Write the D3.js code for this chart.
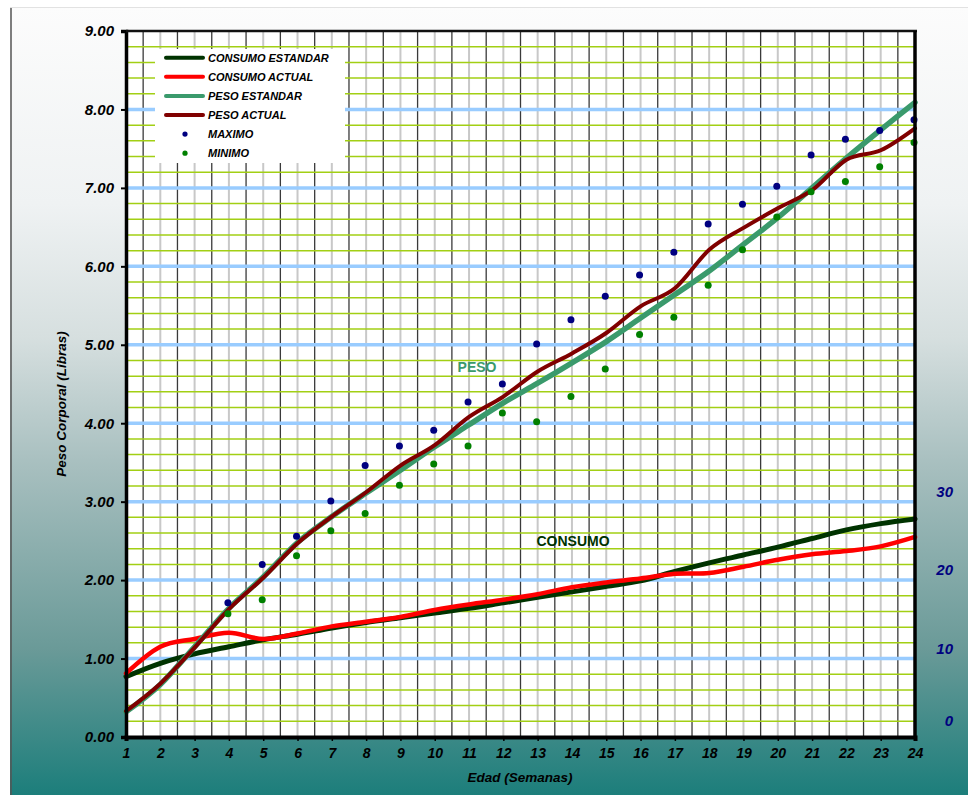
<!DOCTYPE html>
<html>
<head>
<meta charset="utf-8">
<script src="https://cdn.jsdelivr.net/npm/d3@7"></script>
<style>
  body { margin: 0; background: #ffffff; }
  svg text { font-family: "Liberation Sans", Arial, sans-serif; }
</style>
</head>
<body>
<div id="chart"></div>
<script>
// weeks 1..24
var semanas = d3.range(1, 25);

// libras
var pesoEstandar = [0.32, 0.67, 1.15, 1.64, 2.04, 2.48, 2.81, 3.11, 3.40, 3.70, 3.98, 4.26,
                    4.51, 4.77, 5.04, 5.34, 5.64, 5.94, 6.28, 6.62, 7.00, 7.38, 7.74, 8.09];
var pesoActual   = [0.33, 0.68, 1.14, 1.63, 2.03, 2.47, 2.81, 3.12, 3.46, 3.72, 4.08, 4.34,
                    4.66, 4.89, 5.15, 5.49, 5.72, 6.21, 6.49, 6.74, 6.97, 7.36, 7.48, 7.76];

// maximo / minimo from week 4
var semanasMM = d3.range(4, 25);
var maximo = [1.71, 2.20, 2.56, 3.01, 3.46, 3.71, 3.91, 4.27, 4.50, 5.01, 5.32, 5.62,
              5.89, 6.18, 6.54, 6.79, 7.02, 7.42, 7.62, 7.73, 7.87];
var minimo = [1.57, 1.75, 2.31, 2.63, 2.85, 3.21, 3.48, 3.71, 4.13, 4.02, 4.34, 4.69,
              5.13, 5.35, 5.76, 6.21, 6.63, 6.95, 7.08, 7.27, 7.58];

// consumo (secondary axis)
var consumoEstandar = [7.7, 9.4, 10.6, 11.5, 12.4, 13.1, 13.9, 14.6, 15.2, 15.8, 16.4, 17.1,
                       17.8, 18.5, 19.2, 19.9, 21.1, 22.2, 23.2, 24.2, 25.3, 26.4, 27.2, 27.8];
var consumoActual   = [8.1, 11.5, 12.5, 13.3, 12.5, 13.2, 14.1, 14.7, 15.3, 16.2, 16.9, 17.5,
                       18.2, 19.1, 19.7, 20.2, 20.8, 20.9, 21.7, 22.6, 23.3, 23.7, 24.3, 25.5];

var pesoTicks = d3.range(0, 10);
var consumoTicks = [0, 10, 20, 30];

var legendItems = [
  {name: "CONSUMO ESTANDAR", color: "#003300", type: "line"},
  {name: "CONSUMO ACTUAL", color: "#ff0000", type: "line"},
  {name: "PESO ESTANDAR", color: "#3a9a6c", type: "line"},
  {name: "PESO ACTUAL", color: "#800000", type: "line"},
  {name: "MAXIMO", color: "#000080", type: "dot"},
  {name: "MINIMO", color: "#008000", type: "dot"}
];

function init() {
  var W = 968, H = 795;
  var left = 126, right = 915, top = 31, bottom = 737;

  var svg = d3.select("#chart").append("svg")
    .attr("width", W).attr("height", H);

  var defs = svg.append("defs");
  var grad = defs.append("linearGradient").attr("id", "bg")
    .attr("x1", 0).attr("y1", 0).attr("x2", 0).attr("y2", 1);
  [[0, "#fcfcfc"], [0.25, "#eff2f3"], [0.42, "#d6dfdf"], [0.575, "#a9c0c0"],
   [0.815, "#6a9a98"], [1, "#1c7e7b"]].forEach(function(s) {
    grad.append("stop").attr("offset", s[0]).attr("stop-color", s[1]);
  });

  svg.append("rect").attr("x", 10).attr("y", 7).attr("width", W - 10).attr("height", H - 7)
    .attr("fill", "url(#bg)");
  svg.append("line").attr("x1", 11).attr("x2", 11).attr("y1", 7).attr("y2", H)
    .attr("stroke", "#555").attr("stroke-width", 1.5);
  svg.append("line").attr("x1", 10).attr("x2", W).attr("y1", 7.5).attr("y2", 7.5)
    .attr("stroke", "#e2e2e2").attr("stroke-width", 1);

  var x = d3.scaleLinear().domain([1, 24]).range([left, right]);
  var y = d3.scaleLinear().domain([0, 9]).range([bottom, top]);
  var y2 = d3.scaleLinear().domain([0, 90]).range([bottom, top]);

  svg.append("rect").attr("x", left).attr("y", top)
    .attr("width", right - left).attr("height", bottom - top).attr("fill", "#ffffff");

  // vertical grid
  var g = svg.append("g");
  g.selectAll(".vmin").data(d3.range(2, 24)).enter().append("line")
    .attr("x1", function(d) { return x(d); }).attr("x2", function(d) { return x(d); })
    .attr("y1", top).attr("y2", bottom)
    .attr("stroke", "#c8c8c8").attr("stroke-width", 2);
  g.selectAll(".vmaj").data(d3.range(1.5, 24, 1)).enter().append("line")
    .attr("x1", function(d) { return x(d); }).attr("x2", function(d) { return x(d); })
    .attr("y1", top).attr("y2", bottom)
    .attr("stroke", "#3a3a3a").attr("stroke-width", 1.3);

  // horizontal grid
  var minors = d3.range(1, 45).map(function(i) { return i * 0.2; })
    .filter(function(v) { return Math.abs(v - Math.round(v)) > 0.01; });
  g.selectAll(".hmin").data(minors).enter().append("line")
    .attr("x1", left).attr("x2", right)
    .attr("y1", function(d) { return y(d); }).attr("y2", function(d) { return y(d); })
    .attr("stroke", "#a2cf14").attr("stroke-width", 1.5);
  g.selectAll(".hmaj").data(d3.range(1, 9)).enter().append("line")
    .attr("x1", left).attr("x2", right)
    .attr("y1", function(d) { return y(d); }).attr("y2", function(d) { return y(d); })
    .attr("stroke", "#99ccff").attr("stroke-width", 3.5);

  // legend box
  svg.append("rect").attr("x", 155).attr("y", 49).attr("width", 190).attr("height", 114)
    .attr("fill", "#ffffff");

  var smooth = d3.curveCardinal.tension(0);

  function drawLine(data, scale, color, width) {
    var line = d3.line()
      .x(function(d, i) { return x(semanas[i]); })
      .y(function(d) { return scale(d); })
      .curve(smooth);
    svg.append("path").datum(data)
      .attr("d", line)
      .attr("fill", "none")
      .attr("stroke", color)
      .attr("stroke-width", width)
      .attr("stroke-linejoin", "round")
      .attr("stroke-linecap", "round");
  }

  drawLine(consumoEstandar, y2, "#003300", 5);
  drawLine(consumoActual, y2, "#ff0000", 4.5);
  drawLine(pesoEstandar, y, "#3a9a6c", 5.5);
  drawLine(pesoActual, y, "#800000", 4);

  svg.selectAll(".max").data(maximo).enter().append("circle")
    .attr("cx", function(d, i) { return x(semanasMM[i]) - 1; })
    .attr("cy", function(d) { return y(d); })
    .attr("r", 3.5).attr("fill", "#000080");
  svg.selectAll(".min").data(minimo).enter().append("circle")
    .attr("cx", function(d, i) { return x(semanasMM[i]) - 1; })
    .attr("cy", function(d) { return y(d); })
    .attr("r", 3.5).attr("fill", "#008000");

  // annotations
  svg.append("text").attr("x", 477).attr("y", 372).attr("text-anchor", "middle")
    .attr("font-size", 14).attr("font-weight", "bold").attr("fill", "#3a9a6c")
    .text("PESO");
  svg.append("text").attr("x", 573).attr("y", 546).attr("text-anchor", "middle")
    .attr("font-size", 14).attr("font-weight", "bold").attr("fill", "#003300")
    .text("CONSUMO");

  // legend
  var lg = svg.append("g");
  legendItems.forEach(function(item, i) {
    var cy = 57.7 + i * 19.1;
    if (item.type === "line") {
      lg.append("line").attr("x1", 166).attr("x2", 203).attr("y1", cy).attr("y2", cy)
        .attr("stroke", item.color).attr("stroke-width", 4).attr("stroke-linecap", "round");
    } else {
      lg.append("circle").attr("cx", 185).attr("cy", cy).attr("r", 2.6).attr("fill", item.color);
    }
    lg.append("text").attr("x", 208).attr("y", cy + 4)
      .attr("font-size", 11).attr("font-weight", "bold").attr("font-style", "italic")
      .attr("fill", "#000").text(item.name);
  });

  // axes
  var yAxis = svg.append("g").attr("transform", "translate(" + left + ",0)")
    .call(d3.axisLeft(y).tickValues(pesoTicks).tickFormat(d3.format(".2f")).tickSize(5).tickPadding(7));
  yAxis.select(".domain").attr("stroke", "#000").attr("stroke-width", 3.5);
  yAxis.selectAll(".tick line").attr("stroke", "#000").attr("stroke-width", 2);
  yAxis.selectAll("text").attr("font-size", 15).attr("font-weight", "bold")
    .attr("font-style", "italic").attr("fill", "#000")
    .attr("font-family", "Liberation Sans, Arial, sans-serif");

  var xAxis = svg.append("g").attr("transform", "translate(0," + bottom + ")")
    .call(d3.axisBottom(x).tickValues(semanas).tickSize(4).tickPadding(7));
  xAxis.select(".domain").attr("stroke", "#000").attr("stroke-width", 4);
  xAxis.selectAll(".tick line").attr("stroke", "#000").attr("stroke-width", 1.5);
  xAxis.selectAll("text").attr("font-size", 14).attr("font-weight", "bold")
    .attr("font-style", "italic").attr("fill", "#000")
    .attr("font-family", "Liberation Sans, Arial, sans-serif");

  // borders top / right
  svg.append("line").attr("x1", left).attr("x2", right + 2).attr("y1", top).attr("y2", top)
    .attr("stroke", "#111").attr("stroke-width", 2.5);
  svg.append("line").attr("x1", right).attr("x2", right).attr("y1", top).attr("y2", bottom + 2)
    .attr("stroke", "#000").attr("stroke-width", 3.5);

  // secondary axis labels
  var y2Axis = svg.append("g").attr("transform", "translate(953,0)")
    .call(d3.axisRight(y2).tickValues(consumoTicks).tickSize(0).tickPadding(0));
  y2Axis.select(".domain").remove();
  y2Axis.selectAll("text").attr("text-anchor", "end")
    .attr("dy", function(d) { return d === 0 ? "-0.8em" : "-0.35em"; })
    .attr("font-size", 15).attr("font-weight", "bold").attr("font-style", "italic")
    .attr("fill", "#000080").attr("font-family", "Liberation Sans, Arial, sans-serif");

  // titles
  svg.append("text").attr("transform", "translate(66,404) rotate(-90)")
    .attr("text-anchor", "middle").attr("font-size", 13.5).attr("font-weight", "bold")
    .attr("font-style", "italic").text("Peso Corporal (Libras)");
  svg.append("text").attr("x", 520).attr("y", 782).attr("text-anchor", "middle")
    .attr("font-size", 13.5).attr("font-weight", "bold").attr("font-style", "italic")
    .text("Edad (Semanas)");
}

window.onload = init;
</script>
</body>
</html>
